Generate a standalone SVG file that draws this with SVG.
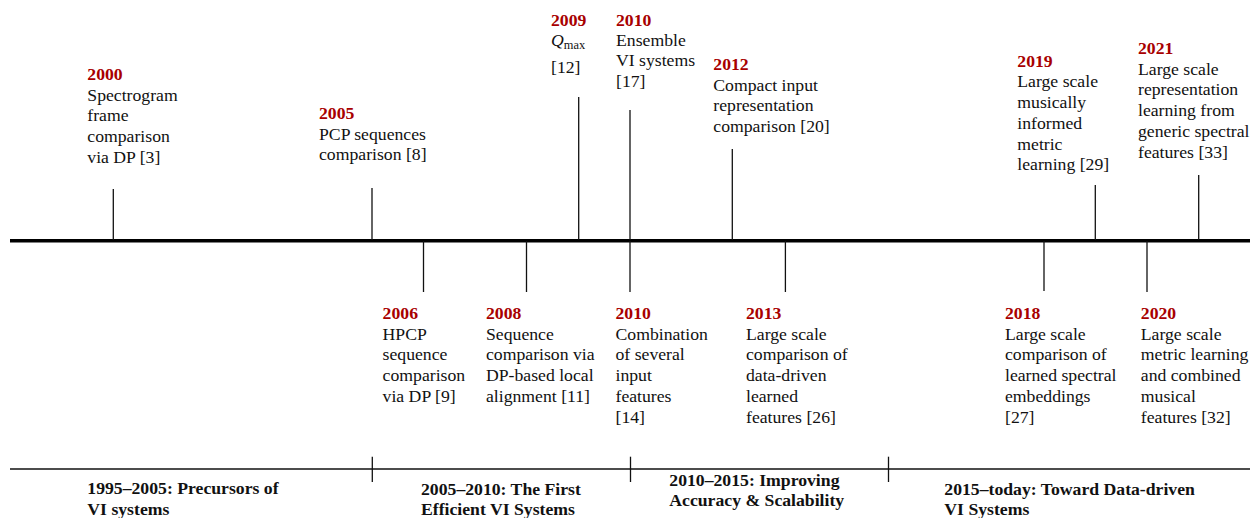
<svg xmlns="http://www.w3.org/2000/svg" width="1253" height="518" viewBox="0 0 1253 518">
<style>
text{font-family:"Liberation Serif","Times New Roman",serif;font-size:17.7px;fill:#111}
.yr{font-weight:bold;fill:#a80000}
.per{font-weight:bold}
.stem{stroke:#111;stroke-width:1.3;fill:none}
.axis{stroke:#000;stroke-width:3.6}
.base{stroke:#111;stroke-width:1.4}
</style>
<rect width="1253" height="518" fill="#fff"/>
<g id="connectors">
<line class="axis" x1="10" y1="240.7" x2="1250" y2="240.7"/>
<line class="stem" x1="113.3" y1="189" x2="113.3" y2="240"/>
<line class="stem" x1="372" y1="188" x2="372" y2="240"/>
<line class="stem" x1="578.7" y1="97" x2="578.7" y2="240"/>
<line class="stem" x1="630" y1="110" x2="630" y2="240"/>
<line class="stem" x1="732.3" y1="149" x2="732.3" y2="240"/>
<line class="stem" x1="1095.3" y1="185" x2="1095.3" y2="240"/>
<line class="stem" x1="1198.7" y1="175" x2="1198.7" y2="240"/>
<line class="stem" x1="423.5" y1="241" x2="423.5" y2="292"/>
<line class="stem" x1="526.5" y1="241" x2="526.5" y2="292"/>
<line class="stem" x1="630" y1="241" x2="630" y2="292"/>
<line class="stem" x1="785.4" y1="241" x2="785.4" y2="292"/>
<line class="stem" x1="1044" y1="241" x2="1044" y2="291"/>
<line class="stem" x1="1147" y1="241" x2="1147" y2="292"/>
<line class="base" x1="10" y1="469" x2="1250" y2="469"/>
<line class="stem" x1="372.3" y1="456.7" x2="372.3" y2="482"/>
<line class="stem" x1="630.5" y1="456.7" x2="630.5" y2="482"/>
<line class="stem" x1="888.5" y1="456.7" x2="888.5" y2="482"/>
</g>
<g id="e2000"><text class="yr" x="87.3" y="80">2000</text><text x="87.3" y="100.7">Spectrogram</text><text x="87.3" y="121.4">frame</text><text x="87.3" y="142.1">comparison</text><text x="87.3" y="162.8">via DP [3]</text></g>
<g id="e2005"><text class="yr" x="319" y="119">2005</text><text x="319" y="139.7">PCP sequences</text><text x="319" y="160.4">comparison [8]</text></g>
<g id="e2009"><text class="yr" x="551" y="25.7">2009</text><text x="551" y="46"><tspan font-style="italic">Q</tspan><tspan font-size="12.4" dy="3">max</tspan></text><text x="551" y="72.5">[12]</text></g>
<g id="e2010a"><text class="yr" x="616" y="25.7">2010</text><text x="616" y="45.5">Ensemble</text><text x="616" y="66">VI systems</text><text x="616" y="86.7">[17]</text></g>
<g id="e2012"><text class="yr" x="713.3" y="70">2012</text><text x="713.3" y="90.7">Compact input</text><text x="713.3" y="111.4">representation</text><text x="713.3" y="132.1">comparison [20]</text></g>
<g id="e2019"><text class="yr" x="1017.3" y="66.7">2019</text><text x="1017.3" y="87.4">Large scale</text><text x="1017.3" y="108.1">musically</text><text x="1017.3" y="128.8">informed</text><text x="1017.3" y="149.5">metric</text><text x="1017.3" y="170.2">learning [29]</text></g>
<g id="e2021"><text class="yr" x="1138" y="54">2021</text><text x="1138" y="74.7">Large scale</text><text x="1138" y="95.4">representation</text><text x="1138" y="116.1">learning from</text><text x="1138" y="136.8">generic spectral</text><text x="1138" y="157.5">features [33]</text></g>
<g id="e2006"><text class="yr" x="382.6" y="319">2006</text><text x="382.6" y="339.7">HPCP</text><text x="382.6" y="360.4">sequence</text><text x="382.6" y="381.1">comparison</text><text x="382.6" y="401.8">via DP [9]</text></g>
<g id="e2008"><text class="yr" x="486" y="319">2008</text><text x="486" y="339.7">Sequence</text><text x="486" y="360.4">comparison via</text><text x="486" y="381.1">DP-based local</text><text x="486" y="401.8">alignment [11]</text></g>
<g id="e2010b"><text class="yr" x="615.5" y="319">2010</text><text x="615.5" y="339.7">Combination</text><text x="615.5" y="360.4">of several</text><text x="615.5" y="381.1">input</text><text x="615.5" y="401.8">features</text><text x="615.5" y="422.5">[14]</text></g>
<g id="e2013"><text class="yr" x="746" y="319">2013</text><text x="746" y="339.7">Large scale</text><text x="746" y="360.4">comparison of</text><text x="746" y="381.1">data-driven</text><text x="746" y="401.8">learned</text><text x="746" y="422.5">features [26]</text></g>
<g id="e2018"><text class="yr" x="1005" y="319">2018</text><text x="1005" y="339.7">Large scale</text><text x="1005" y="360.4">comparison of</text><text x="1005" y="381.1">learned spectral</text><text x="1005" y="401.8">embeddings</text><text x="1005" y="422.5">[27]</text></g>
<g id="e2020"><text class="yr" x="1140.8" y="319">2020</text><text x="1140.8" y="339.7">Large scale</text><text x="1140.8" y="360.4">metric learning</text><text x="1140.8" y="381.1">and combined</text><text x="1140.8" y="401.8">musical</text><text x="1140.8" y="422.5">features [32]</text></g>
<g id="p1"><text class="per" x="87.3" y="494.3">1995–2005: Precursors of</text><text class="per" x="87.3" y="514.5">VI systems</text></g>
<g id="p2"><text class="per" x="421" y="495">2005–2010: The First</text><text class="per" x="421" y="515">Efficient VI Systems</text></g>
<g id="p3"><text class="per" x="669.3" y="486">2010–2015: Improving</text><text class="per" x="669.3" y="505.5">Accuracy &amp; Scalability</text></g>
<g id="p4"><text class="per" x="944.3" y="495">2015–today: Toward Data-driven</text><text class="per" x="944.3" y="515">VI Systems</text></g>
</svg>
